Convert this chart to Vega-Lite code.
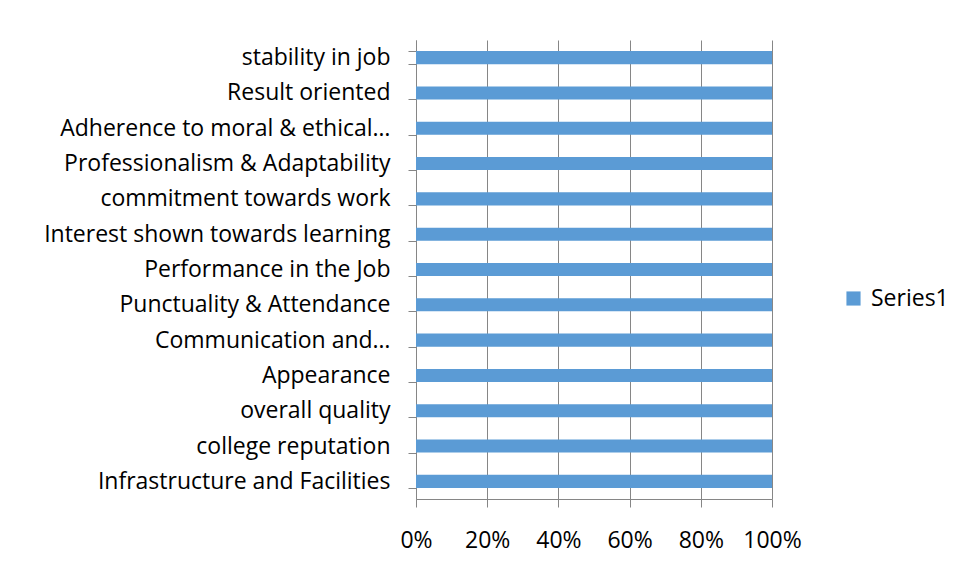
{
  "$schema": "https://vega.github.io/schema/vega-lite/v6.json",
  "width": 356,
  "height": 459,
  "padding": {"left": 43, "top": 29, "right": 5, "bottom": 5},
  "background": "white",
  "data": {
    "values": [
      {"category": "stability in job", "value": 1, "series": "Series1"},
      {"category": "Result oriented", "value": 1, "series": "Series1"},
      {"category": "Adherence to moral & ethical…", "value": 1, "series": "Series1"},
      {"category": "Professionalism & Adaptability", "value": 1, "series": "Series1"},
      {"category": "commitment towards work", "value": 1, "series": "Series1"},
      {"category": "Interest shown towards learning", "value": 1, "series": "Series1"},
      {"category": "Performance in the Job", "value": 1, "series": "Series1"},
      {"category": "Punctuality & Attendance", "value": 1, "series": "Series1"},
      {"category": "Communication and…", "value": 1, "series": "Series1"},
      {"category": "Appearance", "value": 1, "series": "Series1"},
      {"category": "overall quality", "value": 1, "series": "Series1"},
      {"category": "college reputation", "value": 1, "series": "Series1"},
      {"category": "Infrastructure and Facilities", "value": 1, "series": "Series1"}
    ]
  },
  "mark": {"type": "bar"},
  "encoding": {
    "y": {
      "field": "category",
      "type": "nominal",
      "sort": null,
      "scale": {"paddingInner": 0.63, "paddingOuter": 0.315},
      "axis": {
        "title": null,
        "tickBand": "extent",
        "tickSize": 8,
        "tickColor": "#868686",
        "domainColor": "#868686",
        "labelPadding": 18,
        "labelFont": "Open Sans",
        "labelFontSize": 23,
        "labelColor": "#000000",
        "labelLimit": 0,
        "grid": false
      }
    },
    "x": {
      "field": "value",
      "type": "quantitative",
      "scale": {"domain": [0, 1], "nice": false},
      "axis": {
        "title": null,
        "format": ".0%",
        "values": [0, 0.2, 0.4, 0.6, 0.8, 1],
        "grid": true,
        "gridColor": "#868686",
        "tickSize": 8,
        "tickColor": "#868686",
        "domainColor": "#868686",
        "labelPadding": 22,
        "labelFont": "Open Sans",
        "labelFontSize": 23,
        "labelColor": "#000000",
        "labelFlush": false
      }
    },
    "color": {
      "field": "series",
      "type": "nominal",
      "scale": {"range": ["#5B9BD5"]},
      "legend": {
        "title": null,
        "orient": "none",
        "legendX": 426,
        "legendY": 247,
        "symbolType": "square",
        "symbolSize": 200,
        "symbolStrokeWidth": 0,
        "labelFont": "Open Sans",
        "labelFontSize": 23,
        "labelColor": "#000000",
        "labelOffset": 6
      }
    }
  },
  "config": {
    "view": {"stroke": null}
  }
}
